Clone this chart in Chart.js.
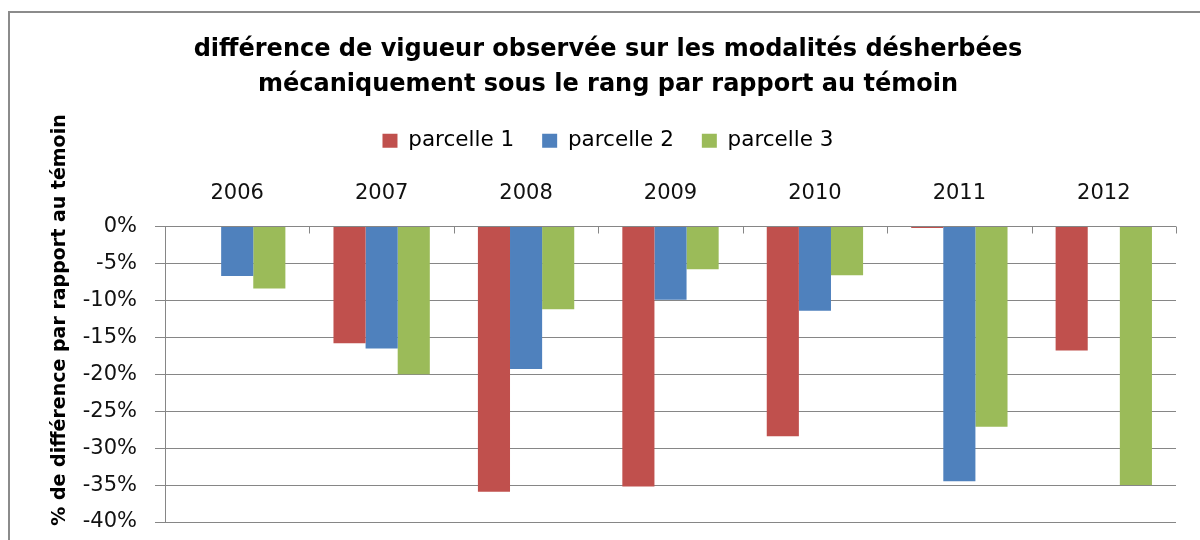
<!DOCTYPE html>
<html>
<head>
<meta charset="utf-8">
<title>différence de vigueur</title>
<script src="https://cdn.jsdelivr.net/npm/chart.js@4.4.1/dist/chart.umd.min.js"></script>
<style>
  html, body { margin: 0; padding: 0; background: #fff; }
  body { width: 1200px; height: 540px; overflow: hidden; position: relative; }
  #frame { position: absolute; left: 8px; top: 11px; width: 1300px; height: 600px; border: 2px solid #8b8b8b; }
  #chart { position: absolute; left: 0; top: 0; }
</style>
</head>
<body>
<div id="frame"></div>
<canvas id="chart" width="1200" height="540"></canvas>
<script>
// Data (% difference vs témoin)
const years = ['2006', '2007', '2008', '2009', '2010', '2011', '2012'];
const parcelle1 = [null, -15.8, -35.9, -35.2, -28.4, -0.2, -16.8];
const parcelle2 = [-6.7, -16.5, -19.3, -9.9, -11.4, -34.5, null];
const parcelle3 = [-8.4, -20.0, -11.2, -5.8, -6.6, -27.1, -35.0];
const seriesNames = ['parcelle 1', 'parcelle 2', 'parcelle 3'];
const seriesColors = ['#C0504D', '#4F81BD', '#9BBB59'];

const titleLines = [
    'différence de vigueur observée sur les modalités désherbées',
    'mécaniquement sous le rang par rapport au témoin'
];
const yTitle = '% de différence par rapport au témoin';

const FONT = '"DejaVu Sans", "Open Sans", sans-serif';
const GRID = '#868686';
const LEFT_PAD = 40;

// Rotated y-axis title, Excel puts it higher than the plot centre
const yTitlePlugin = {
    id: 'yTitle',
    afterDraw(chart) {
        const ctx = chart.ctx;
        ctx.save();
        ctx.translate(60, 320);
        ctx.rotate(-Math.PI / 2);
        ctx.font = 'bold 19px ' + FONT;
        ctx.fillStyle = '#000';
        ctx.textAlign = 'center';
        ctx.textBaseline = 'middle';
        ctx.fillText(yTitle, 0, 0);
        ctx.restore();
    }
};

// Small tick marks between categories, hanging down from the 0% line
const catTicksPlugin = {
    id: 'catTicks',
    beforeDatasetsDraw(chart) {
        const ctx = chart.ctx;
        const x = chart.scales.x;
        const y0 = chart.scales.y.getPixelForValue(0);
        const half = (x.getPixelForValue(1) - x.getPixelForValue(0)) / 2;
        ctx.save();
        ctx.strokeStyle = GRID;
        ctx.lineWidth = 1;
        ctx.beginPath();
        for (let i = 0; i <= years.length; i++) {
            const px = Math.round(x.getPixelForValue(i) - half) + 0.5;
            ctx.moveTo(px, y0);
            ctx.lineTo(px, y0 + 7);
        }
        ctx.stroke();
        ctx.restore();
    }
};

const datasets = [parcelle1, parcelle2, parcelle3].map((values, i) => ({
    label: seriesNames[i],
    data: values,
    backgroundColor: seriesColors[i],
    borderWidth: 0,
    categoryPercentage: 0.667,
    barPercentage: 1.0
}));

new Chart(document.getElementById('chart'), {
    type: 'bar',
    data: { labels: years, datasets: datasets },
    options: {
        responsive: false,
        animation: false,
        layout: { padding: { left: LEFT_PAD, right: 24, top: 0, bottom: 18 } },
        plugins: {
            title: {
                display: true,
                text: titleLines,
                color: '#000',
                font: { family: FONT, size: 24, weight: 'bold', lineHeight: 35 / 24 },
                padding: { top: 32, bottom: 0 }
            },
            legend: {
                display: true,
                labels: {
                    boxWidth: 15,
                    boxHeight: 14,
                    padding: 28,
                    color: '#000',
                    font: { family: FONT, size: 21.5 }
                }
            },
            tooltip: { enabled: false }
        },
        scales: {
            x: {
                position: 'top',
                grid: { display: false, drawTicks: false },
                border: { display: false },
                ticks: {
                    color: '#111',
                    padding: 20,
                    font: { family: FONT, size: 21 }
                },
                afterFit: (s) => { s.height = 65; }
            },
            y: {
                min: -40,
                max: 0,
                ticks: {
                    stepSize: 5,
                    color: '#111',
                    padding: 18,
                    font: { family: FONT, size: 21 },
                    callback: (v) => v + '%'
                },
                grid: { color: GRID, lineWidth: 1, tickLength: 10 },
                border: { display: true, color: GRID, width: 1 },
                afterFit: (s) => {
                    s.width = 165 - LEFT_PAD;
                    // label overflow would otherwise lift the -40% line
                    s.paddingBottom = 0;
                }
            }
        }
    },
    plugins: [yTitlePlugin, catTicksPlugin]
});
</script>
</body>
</html>
